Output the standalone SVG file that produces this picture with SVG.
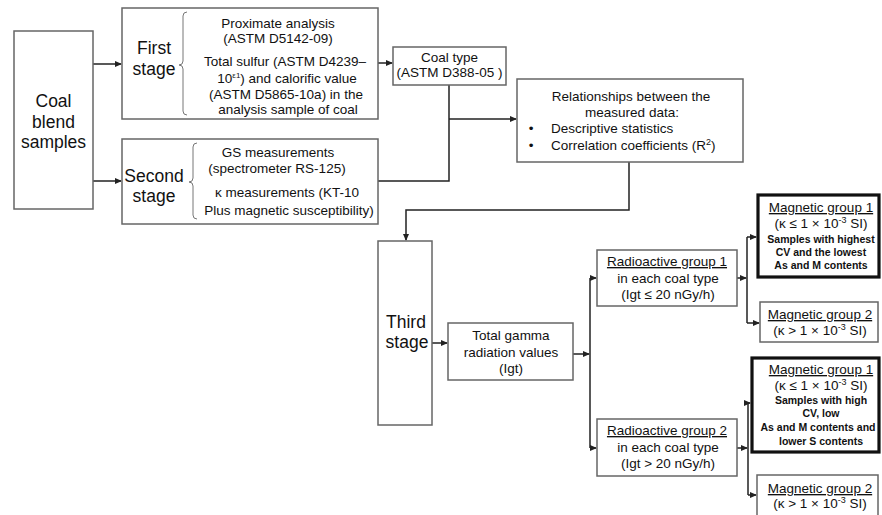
<svg xmlns="http://www.w3.org/2000/svg" width="882" height="515" viewBox="0 0 882 515">
<style>
text{font-family:"Liberation Sans",Arial,sans-serif;fill:#111;}
.t{font-size:13.5px;text-anchor:middle;}
.big{font-size:17.5px;text-anchor:middle;}
.sm{font-size:10.5px;font-weight:bold;text-anchor:middle;}
.u{text-decoration:underline;}
.box{fill:#fff;stroke:#666;stroke-width:1.5;}
.thick{fill:#fff;stroke:#111;stroke-width:3.2;}
.brace{fill:none;stroke:#777;stroke-width:1;}
.c{fill:none;stroke:#222;stroke-width:1.5;}
</style>
<defs>
<marker id="ah" markerWidth="7" markerHeight="6" refX="6" refY="3" orient="auto" markerUnits="userSpaceOnUse">
<path d="M0,0 L7,3 L0,6 Z" fill="#222"/>
</marker>
</defs>
<rect width="882" height="515" fill="#fff"/>

<g id="connectors">
<path class="c" d="M93,64 H121" marker-end="url(#ah)"/>
<path class="c" d="M93,181 H121" marker-end="url(#ah)"/>
<path class="c" d="M378,63 H392" marker-end="url(#ah)"/>
<path class="c" d="M449,85 V181 H378"/>
<path class="c" d="M449,119 H516" marker-end="url(#ah)"/>
<path class="c" d="M629,162 V210 H406 V240" marker-end="url(#ah)"/>
<path class="c" d="M432,343 H447" marker-end="url(#ah)"/>
<path class="c" d="M573,354 H589" marker-end="url(#ah)"/>
<path class="c" d="M590,278 V448"/>
<path class="c" d="M590,278 H596" marker-end="url(#ah)"/>
<path class="c" d="M590,448 H596" marker-end="url(#ah)"/>
<path class="c" d="M737,278 H746" marker-end="url(#ah)"/>
<path class="c" d="M747,237 V323"/>
<path class="c" d="M747,237 H756" marker-end="url(#ah)"/>
<path class="c" d="M747,323 H759" marker-end="url(#ah)"/>
<path class="c" d="M737,448 H747" marker-end="url(#ah)"/>
<path class="c" d="M748,403 V495"/>
<path class="c" d="M748,403 H750" marker-end="url(#ah)"/>
<path class="c" d="M748,495 H756" marker-end="url(#ah)"/>
</g>

<g id="coal-blend">
<rect class="box" x="14" y="31" width="79" height="178"/>
<text class="big" x="53.5" y="107">Coal</text>
<text class="big" x="53.5" y="128">blend</text>
<text class="big" x="53.5" y="148">samples</text>
</g>

<g id="first-stage">
<rect class="box" x="122" y="8" width="256" height="111"/>
<text class="big" x="154" y="54">First</text>
<text class="big" x="154" y="75">stage</text>
<path class="brace" d="M187,12 Q183,12 183,16 V61 Q183,65 179,65 Q183,65 183,69 V111 Q183,115 187,115"/>
<text class="t" x="278" y="28">Proximate analysis</text>
<text class="t" x="278" y="43">(ASTM D5142-09)</text>
<text class="t" x="285" y="66">Total sulfur (ASTM D4239–</text>
<text class="t" x="287" y="83">10<tspan font-size="8" dy="-5">ε1</tspan><tspan dy="5">) and calorific value</tspan></text>
<text class="t" x="286" y="99">(ASTM D5865-10a) in the</text>
<text class="t" x="288" y="114">analysis sample of coal</text>
</g>

<g id="second-stage">
<rect class="box" x="122" y="139" width="256" height="85"/>
<text class="big" x="154" y="182">Second</text>
<text class="big" x="154" y="202">stage</text>
<path class="brace" d="M197,143 Q193,143 193,147 V178 Q193,182 189,182 Q193,182 193,186 V215 Q193,219 197,219"/>
<text class="t" x="278" y="157">GS measurements</text>
<text class="t" x="277" y="173">(spectrometer RS-125)</text>
<text class="t" x="287" y="197">κ measurements (KT-10</text>
<text class="t" x="289" y="215">Plus magnetic susceptibility)</text>
</g>

<g id="coal-type">
<rect class="box" x="393" y="47" width="113" height="38"/>
<text class="t" x="449.5" y="62">Coal type</text>
<text class="t" x="449.5" y="77">(ASTM D388-05 )</text>
</g>

<g id="relationships">
<rect class="box" x="517" y="79" width="226" height="83"/>
<text class="t" x="631" y="101">Relationships between the</text>
<text class="t" x="632" y="117">measured data:</text>
<text x="531" y="133" style="font-size:13.5px;text-anchor:middle">•</text>
<text x="551" y="133" style="font-size:13.5px">Descriptive statistics</text>
<text x="531" y="150" style="font-size:13.5px;text-anchor:middle">•</text>
<text x="551" y="150" style="font-size:13.5px">Correlation coefficients (R<tspan font-size="9" dy="-5">2</tspan><tspan dy="5">)</tspan></text>
</g>

<g id="third-stage">
<rect class="box" x="378" y="241" width="54" height="184"/>
<text class="big" x="406" y="328">Third</text>
<text class="big" x="407" y="348">stage</text>
</g>

<g id="total-gamma">
<rect class="box" x="448" y="323" width="125" height="57"/>
<text class="t" x="511" y="340">Total gamma</text>
<text class="t" x="511" y="357">radiation values</text>
<text class="t" x="511" y="373">(Igt)</text>
</g>

<g id="radioactive-1">
<rect class="box" x="597" y="250" width="140" height="56"/>
<text class="t u" x="667" y="266">Radioactive group 1</text>
<text class="t" x="668" y="283">in each coal type</text>
<text class="t" x="668" y="299">(Igt ≤ 20 nGy/h)</text>
</g>

<g id="radioactive-2">
<rect class="box" x="597" y="419" width="140" height="57"/>
<text class="t u" x="667" y="435">Radioactive group 2</text>
<text class="t" x="668" y="452">in each coal type</text>
<text class="t" x="668" y="468">(Igt &gt; 20 nGy/h)</text>
</g>

<g id="magnetic-1a">
<rect class="thick" x="758" y="195" width="121" height="82"/>
<text class="t u" x="821" y="212">Magnetic group 1</text>
<text class="t" x="821" y="228">(κ ≤ 1 × 10<tspan font-size="9" dy="-5">-3</tspan><tspan dy="5"> SI)</tspan></text>
<text class="sm" x="821" y="243">Samples with highest</text>
<text class="sm" x="821" y="256">CV and the lowest</text>
<text class="sm" x="821" y="269">As and M contents</text>
</g>

<g id="magnetic-2a">
<rect class="box" x="760" y="302" width="118" height="40"/>
<text class="t u" x="820" y="319">Magnetic group 2</text>
<text class="t" x="820" y="335">(κ &gt; 1 × 10<tspan font-size="9" dy="-5">-3</tspan><tspan dy="5"> SI)</tspan></text>
</g>

<g id="magnetic-1b">
<rect class="thick" x="752" y="358" width="127" height="94"/>
<text class="t u" x="821" y="374">Magnetic group 1</text>
<text class="t" x="821" y="390">(κ ≤ 1 × 10<tspan font-size="9" dy="-5">-3</tspan><tspan dy="5"> SI)</tspan></text>
<text class="sm" x="821" y="404">Samples with high</text>
<text class="sm" x="821" y="417">CV, low</text>
<text class="sm" x="818" y="431">As and M contents and</text>
<text class="sm" x="821" y="445">lower S contents</text>
</g>

<g id="magnetic-2b">
<rect class="box" x="757" y="475" width="121" height="50"/>
<text class="t u" x="820" y="493">Magnetic group 2</text>
<text class="t" x="820" y="508">(κ &gt; 1 × 10<tspan font-size="9" dy="-5">-3</tspan><tspan dy="5"> SI)</tspan></text>
</g>
</svg>
